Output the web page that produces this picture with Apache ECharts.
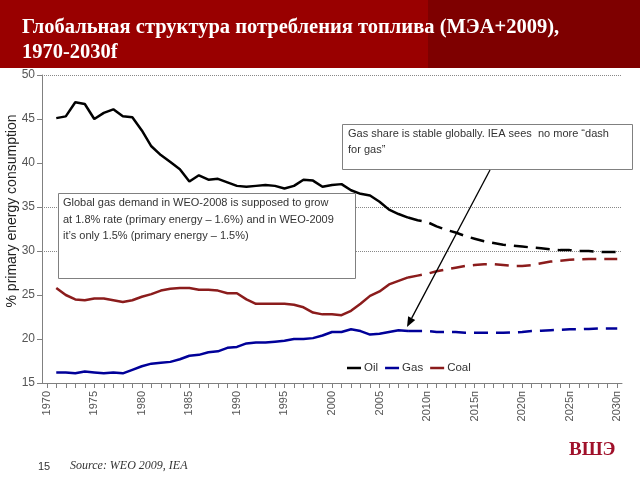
<!DOCTYPE html>
<html>
<head>
<meta charset="utf-8">
<script src="https://cdn.jsdelivr.net/npm/echarts@6/dist/echarts.min.js"></script>
<style>html,body{margin:0;padding:0;background:#fff}#c{width:640px;height:480px}</style>
</head>
<body>
<div id="c"></div>
<script>
const categories = ['1970','1971','1972','1973','1974','1975','1976','1977','1978','1979','1980','1981','1982','1983','1984','1985','1986','1987','1988','1989','1990','1991','1992','1993','1994','1995','1996','1997','1998','1999','2000','2001','2002','2003','2004','2005','2006','2007','2008','2009','2010','2011','2012','2013','2014','2015','2016','2017','2018','2019','2020','2021','2022','2023','2024','2025','2026','2027','2028','2029','2030'];
const tickLabels = ['1970','1975','1980','1985','1990','1995','2000','2005','2010п','2015п','2020п','2025п','2030п'];
const yAxisTitle = '% primary energy consumption';

const histYears = ['1971','1972','1973','1974','1975','1976','1977','1978','1979','1980','1981','1982','1983','1984','1985','1986','1987','1988','1989','1990','1991','1992','1993','1994','1995','1996','1997','1998','1999','2000','2001','2002','2003','2004','2005','2006','2007','2008'];
const fcstYears = ['2008','2009','2010','2011','2012','2013','2014','2015','2016','2017','2018','2019','2020','2021','2022','2023','2024','2025','2026','2027','2028','2029','2030'];

const oilHist = [45.1,45.3,46.9,46.7,45.0,45.7,46.1,45.3,45.2,43.7,41.9,40.9,40.1,39.3,37.9,38.6,38.1,38.2,37.8,37.4,37.3,37.4,37.5,37.4,37.1,37.4,38.1,38.0,37.3,37.5,37.6,36.9,36.5,36.3,35.6,34.7,34.2,33.8];
const oilFcst = [33.8,33.5,33.3,32.8,32.4,32.1,31.7,31.4,31.1,30.9,30.7,30.6,30.5,30.4,30.3,30.2,30.1,30.1,30.0,30.0,29.9,29.9,29.9];

const gasHist = [16.2,16.2,16.1,16.3,16.2,16.1,16.2,16.1,16.5,16.9,17.2,17.3,17.4,17.7,18.1,18.2,18.5,18.6,19.0,19.1,19.5,19.6,19.6,19.7,19.8,20.0,20.0,20.1,20.4,20.8,20.8,21.1,20.9,20.5,20.6,20.8,21.0,20.9];
const gasFcst = [20.9,20.9,20.9,20.8,20.8,20.8,20.7,20.7,20.7,20.7,20.7,20.75,20.8,20.9,20.95,21.0,21.05,21.1,21.1,21.15,21.2,21.2,21.2];

const coalHist = [25.8,25.0,24.5,24.4,24.6,24.6,24.4,24.2,24.4,24.8,25.1,25.5,25.7,25.8,25.8,25.6,25.6,25.5,25.2,25.2,24.5,24.0,24.0,24.0,24.0,23.9,23.6,23.0,22.8,22.8,22.7,23.2,24.0,24.9,25.4,26.2,26.6,27.0];
const coalFcst = [27.0,27.2,27.4,27.7,27.9,28.1,28.3,28.4,28.5,28.5,28.4,28.3,28.3,28.4,28.6,28.8,28.9,29.0,29.05,29.1,29.1,29.1,29.1];

const gridValues = [50, 35, 30];

const colors = {Oil:'#000000', Gas:'#000099', Coal:'#8B1C1C'};
const pair = (yrs, vals) => yrs.map((y,i)=>[y, vals[i]]);

function mk(name, yrs, vals, dashed, extra){
  return Object.assign({
    name: name, type:'line', symbol:'none', silent:true, z:3,
    data: pair(yrs, vals),
    lineStyle:{color:colors[name], width:2.5, type: dashed ? [14,8] : 'solid'},
    itemStyle:{color:colors[name]}
  }, extra||{});
}

const chart = echarts.init(document.getElementById('c'), null, {renderer:'canvas'});
const arrTip=[407,327], arrFrom=[490,170];
const ux=(arrTip[0]-arrFrom[0]), uy=(arrTip[1]-arrFrom[1]); const L=Math.hypot(ux,uy);
const dx=ux/L, dy=uy/L;
const bx=arrTip[0]-dx*10, by=arrTip[1]-dy*10;

chart.setOption({
  animation:false,
  textStyle:{fontFamily:'Arial, "Liberation Sans", sans-serif'},
  grid:{left:42, right:18, top:75, bottom:97, containLabel:false, outerBoundsMode:'none'},
  legend:{
    data:['Oil','Gas','Coal'], left:342, top:357, icon:'rect', itemWidth:14, itemHeight:2.5, itemGap:7,
    textStyle:{fontSize:11.5, color:'#333', padding:[0,0,0,-2]}, selectedMode:false
  },
  xAxis:{
    type:'category', data:categories, boundaryGap:true,
    axisLine:{lineStyle:{color:'#808080', width:1}},
    axisTick:{show:true, interval:0, alignWithLabel:true, length:5, lineStyle:{color:'#808080'}},
    axisLabel:{interval:4, rotate:90, fontSize:11, color:'#555', margin:8,
      formatter:(v,i)=> tickLabels[Math.round(i/5)] }
  },
  yAxis:{
    type:'value', min:15, max:50, interval:5,
    axisLine:{show:true, lineStyle:{color:'#808080'}},
    axisTick:{show:true, length:5, lineStyle:{color:'#808080'}},
    axisLabel:{fontSize:12, color:'#555', margin:7},
    splitLine:{show:false}
  },
  series:[
    mk('Oil', histYears, oilHist, false, {markLine:{silent:true, symbol:'none', label:{show:false}, z:1,
      lineStyle:{color:'#888', type:'dotted', width:1}, data: gridValues.map(v=>({yAxis:v}))}}),
    mk('Oil', fcstYears, oilFcst, true),
    mk('Gas', histYears, gasHist, false),
    mk('Gas', fcstYears, gasFcst, true),
    mk('Coal', histYears, coalHist, false),
    mk('Coal', fcstYears, coalFcst, true)
  ],
  graphic:[
    {type:'rect', shape:{x:0,y:0,width:640,height:68}, style:{fill:'#990000'}, z:10},
    {type:'rect', shape:{x:428,y:0,width:212,height:68}, style:{fill:'#7E0000'}, z:10},
    {type:'text', left:22, top:15, z:11, style:{text:'Глобальная структура потребления топлива (МЭА+2009),\n1970-2030f', fill:'#fff', font:'bold 20.5px "Liberation Serif", "Times New Roman", serif', lineHeight:25}},
    {type:'text', x:12, y:211, rotation:Math.PI/2, z:11, style:{text:yAxisTitle, fill:'#222', font:'14px Arial, "Liberation Sans", sans-serif', align:'center', verticalAlign:'middle'}},
    {type:'rect', shape:{x:58.5,y:193.5,width:297,height:85}, style:{fill:'#fff', stroke:'#808080', lineWidth:1}, z:20},
    {type:'text', left:63, top:195, z:21, style:{text:'Global gas demand in WEO-2008 is supposed to grow\nat 1.8% rate (primary energy – 1.6%) and in WEO-2009\nit\u2019s only 1.5% (primary energy – 1.5%)', fill:'#333', font:'11px Arial, "Liberation Sans", sans-serif', lineHeight:16.5}},
    {type:'rect', shape:{x:342.5,y:124.5,width:290,height:45}, style:{fill:'#fff', stroke:'#808080', lineWidth:1}, z:20},
    {type:'text', left:348, top:126, z:21, style:{text:'Gas share is stable globally. IEA sees  no more \u201cdash\nfor gas\u201d', fill:'#333', font:'11px Arial, "Liberation Sans", sans-serif', lineHeight:16}},
    {type:'line', shape:{x1:arrFrom[0], y1:arrFrom[1], x2:bx, y2:by}, style:{stroke:'#000', lineWidth:1.3}, z:22},
    {type:'polygon', shape:{points:[[arrTip[0],arrTip[1]],[bx+dy*4, by-dx*4],[bx-dy*4, by+dx*4]]}, style:{fill:'#000'}, z:22},
    {type:'text', left:569, top:441, z:11, style:{text:'ВШЭ', fill:'#A0102A', font:'bold 19px "Liberation Serif", "Times New Roman", serif'}},
    {type:'text', left:38, top:461, z:11, style:{text:'15', fill:'#333', font:'11px Arial, "Liberation Sans", sans-serif'}},
    {type:'text', left:70, top:460, z:11, style:{text:'Source: WEO 2009, IEA', fill:'#333', font:'italic 12px "Liberation Serif", "Times New Roman", serif'}}
  ]
});
</script>
</body>
</html>
